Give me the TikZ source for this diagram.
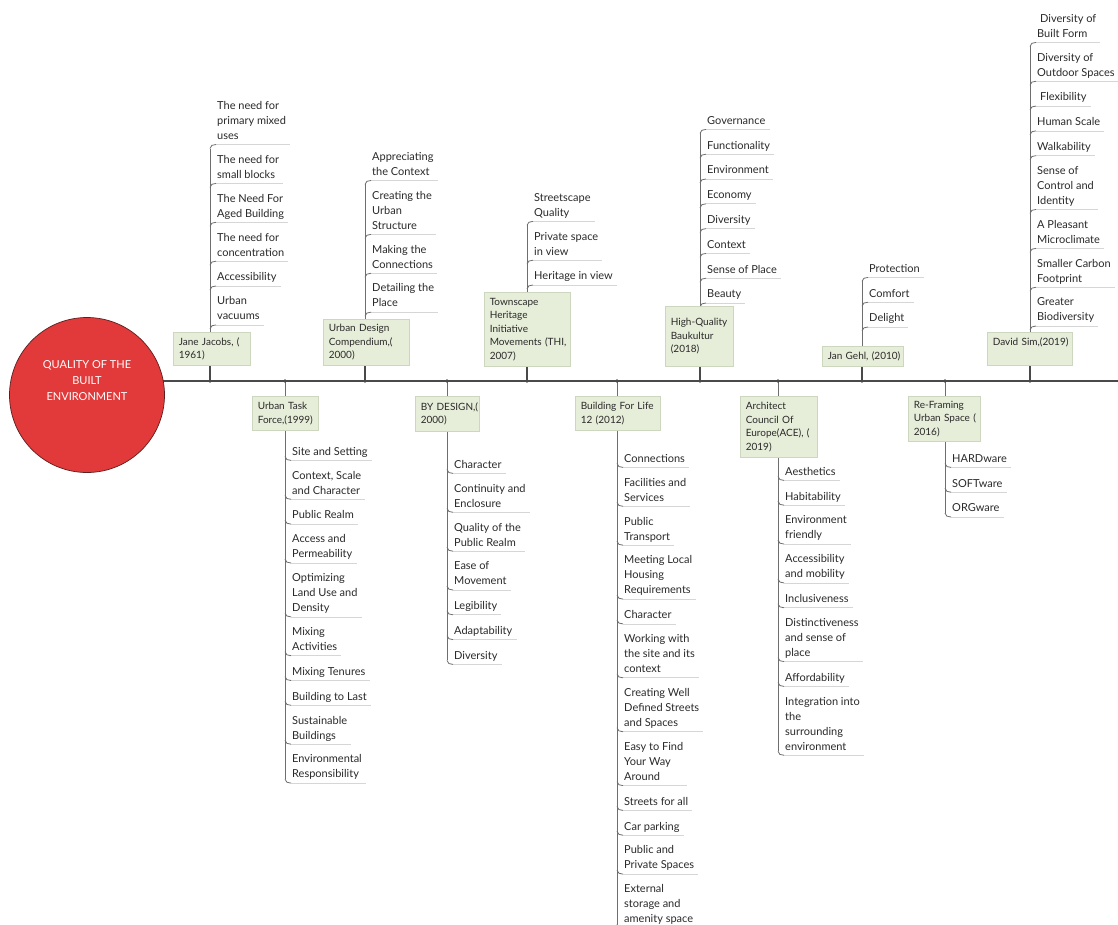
\documentclass[tikz,border=0pt]{standalone}
\usepackage{fontspec}
\setmainfont{Lato}
\usetikzlibrary{calc}
\definecolor{spinecol}{HTML}{4A4A4A}
\definecolor{vlinecol}{HTML}{6E6E6E}
\definecolor{ulinecol}{HTML}{D6D6D6}
\definecolor{boxfill}{HTML}{E6EDD8}
\definecolor{boxline}{HTML}{CDD6BE}
\definecolor{itemcol}{HTML}{2A2A2A}
\definecolor{corered}{HTML}{E2393A}
\definecolor{coreedge}{HTML}{5C1E1E}
\newcommand\nohyph{\hyphenpenalty=10000\relax\exhyphenpenalty=10000\relax}
\newcommand\gap{-10.4pt}
\tikzset{
  item/.style={anchor=north west, inner sep=0pt, align=left,
    font=\fontsize{11}{15}\selectfont, text=itemcol,
    execute at begin node={\rule{0pt}{9pt}},
    execute at end node={\rule[-5pt]{0pt}{5pt}}},
  topic/.style={anchor=north west, draw=boxline, fill=boxfill, line width=0.6pt,
    inner xsep=5.5pt, inner ysep=0pt, align=left,
    font=\fontsize{10}{13.5}\selectfont, text=itemcol,
    execute at begin node={\nohyph}},
  uline/.style={draw=ulinecol, line width=0.7pt},
  twig/.style={draw=vlinecol, line width=0.8pt},
  vline/.style={draw=vlinecol, line width=1pt},
  spine/.style={draw=spinecol, line width=2.2pt},
  stem/.style={draw=spinecol, line width=1.2pt},
  joint/.style={circle, fill=spinecol, inner sep=0pt, minimum size=3.6pt},
}
% underline and twig for an item hanging above the spine
\newcommand\upmark[1]{%
  \draw[uline] ([xshift=-1pt]#1.south west) -- ([xshift=4pt]#1.south east);
  \draw[twig] ($(#1.south west)+(-7,4)$) .. controls +(0,-3) and +(-3,0) .. ([xshift=-1pt]#1.south west);}
% underline and twig for an item hanging below the spine
\newcommand\downmark[1]{%
  \draw[uline] ([xshift=-1pt]#1.south west) -- ([xshift=4pt]#1.south east);
  \draw[twig] ($(#1.south west)+(-7,-4)$) .. controls +(0,3) and +(-3,0) .. ([xshift=-1pt]#1.south west);}
\begin{document}
\begin{tikzpicture}[x=1pt,y=-1pt]
\fill[white] (0,0) rectangle (1118,924);
\useasboundingbox (0,0) rectangle (1118,924);

% ---------------- spine ----------------
\coordinate (sp0) at (87,381);
\coordinate (sp1) at (1118,381);
\draw[spine] (sp0) -- (sp1);

% stem positions on the spine
\coordinate (jjs) at (210,381);
\coordinate (udcs) at (365,381);
\coordinate (this) at (527,381);
\coordinate (hqbs) at (700,381);
\coordinate (gehls) at (862,381);
\coordinate (sims) at (1030,381);
\coordinate (utfs) at (285,381);
\coordinate (bds) at (447,381);
\coordinate (bfls) at (617,381);
\coordinate (aces) at (778,381);
\coordinate (rfs) at (945,381);

% ---------------- items above the spine ----------------
% Jane Jacobs
\node[item] (j1) at (217,101) {The need for\\primary mixed\\uses};
\node[item] (j2) at ([yshift=\gap]j1.south west) {The need for\\small blocks};
\node[item] (j3) at ([yshift=\gap]j2.south west) {The Need For\\Aged Building};
\node[item] (j4) at ([yshift=\gap]j3.south west) {The need for\\concentration};
\node[item] (j5) at ([yshift=\gap]j4.south west) {Accessibility};
\node[item] (j6) at ([yshift=\gap]j5.south west) {Urban\\vacuums};
\foreach \n in {j1,j2,j3,j4,j5,j6} {\upmark{\n}}

% Urban Design Compendium
\node[item] (c1) at (372,152) {Appreciating\\the Context};
\node[item] (c2) at ([yshift=\gap]c1.south west) {Creating the\\Urban\\Structure};
\node[item] (c3) at ([yshift=\gap]c2.south west) {Making the\\Connections};
\node[item] (c4) at ([yshift=\gap]c3.south west) {Detailing the\\Place};
\foreach \n in {c1,c2,c3,c4} {\upmark{\n}}

% Townscape Heritage Initiative
\node[item] (t1) at (534,193) {Streetscape\\Quality};
\node[item] (t2) at ([yshift=\gap]t1.south west) {Private space\\in view};
\node[item] (t3) at ([yshift=\gap]t2.south west) {Heritage in view};
\foreach \n in {t1,t2,t3} {\upmark{\n}}

% High-Quality Baukultur
\node[item] (h1) at (707,115) {Governance};
\node[item] (h2) at ([yshift=\gap]h1.south west) {Functionality};
\node[item] (h3) at ([yshift=\gap]h2.south west) {Environment};
\node[item] (h4) at ([yshift=\gap]h3.south west) {Economy};
\node[item] (h5) at ([yshift=\gap]h4.south west) {Diversity};
\node[item] (h6) at ([yshift=\gap]h5.south west) {Context};
\node[item] (h7) at ([yshift=\gap]h6.south west) {Sense of Place};
\node[item] (h8) at ([yshift=\gap]h7.south west) {Beauty};
\foreach \n in {h1,h2,h3,h4,h5,h6,h7,h8} {\upmark{\n}}

% Jan Gehl
\node[item] (g1) at (869,263) {Protection};
\node[item] (g2) at ([yshift=\gap]g1.south west) {Comfort};
\node[item] (g3) at ([yshift=\gap]g2.south west) {Delight};
\foreach \n in {g1,g2,g3} {\upmark{\n}}

% David Sim
\node[item] (d1) at (1037,14) {\hspace{3pt}Diversity of\\Built Form};
\node[item] (d2) at ([yshift=\gap]d1.south west) {Diversity of\\Outdoor Spaces};
\node[item] (d3) at ([yshift=\gap]d2.south west) {\hspace{3pt}Flexibility};
\node[item] (d4) at ([yshift=\gap]d3.south west) {Human Scale};
\node[item] (d5) at ([yshift=\gap]d4.south west) {Walkability};
\node[item] (d6) at ([yshift=\gap]d5.south west) {Sense of\\Control and\\Identity};
\node[item] (d7) at ([yshift=\gap]d6.south west) {A Pleasant\\Microclimate};
\node[item] (d8) at ([yshift=\gap]d7.south west) {Smaller Carbon\\Footprint};
\node[item] (d9) at ([yshift=\gap]d8.south west) {Greater\\Biodiversity};
\foreach \n in {d1,d2,d3,d4,d5,d6,d7,d8,d9} {\upmark{\n}}

% ---------------- items below the spine ----------------
% Urban Task Force
\node[item] (u1) at (292,446) {Site and Setting};
\node[item] (u2) at ([yshift=\gap]u1.south west) {Context, Scale\\and Character};
\node[item] (u3) at ([yshift=\gap]u2.south west) {Public Realm};
\node[item] (u4) at ([yshift=\gap]u3.south west) {Access and\\Permeability};
\node[item] (u5) at ([yshift=\gap]u4.south west) {Optimizing\\Land Use and\\Density};
\node[item] (u6) at ([yshift=\gap]u5.south west) {Mixing\\Activities};
\node[item] (u7) at ([yshift=\gap]u6.south west) {Mixing Tenures};
\node[item] (u8) at ([yshift=\gap]u7.south west) {Building to Last};
\node[item] (u9) at ([yshift=\gap]u8.south west) {Sustainable\\Buildings};
\node[item] (u10) at ([yshift=\gap]u9.south west) {Environmental\\Responsibility};
\foreach \n in {u1,u2,u3,u4,u5,u6,u7,u8,u9,u10} {\downmark{\n}}

% By Design
\node[item] (b1) at (454,459) {Character};
\node[item] (b2) at ([yshift=\gap]b1.south west) {Continuity and\\Enclosure};
\node[item] (b3) at ([yshift=\gap]b2.south west) {Quality of the\\Public Realm};
\node[item] (b4) at ([yshift=\gap]b3.south west) {Ease of\\Movement};
\node[item] (b5) at ([yshift=\gap]b4.south west) {Legibility};
\node[item] (b6) at ([yshift=\gap]b5.south west) {Adaptability};
\node[item] (b7) at ([yshift=\gap]b6.south west) {Diversity};
\foreach \n in {b1,b2,b3,b4,b5,b6,b7} {\downmark{\n}}

% Building For Life 12
\node[item] (f1) at (624,453) {Connections};
\node[item] (f2) at ([yshift=\gap]f1.south west) {Facilities and\\Services};
\node[item] (f3) at ([yshift=\gap]f2.south west) {Public\\Transport};
\node[item] (f4) at ([yshift=\gap]f3.south west) {Meeting Local\\Housing\\Requirements};
\node[item] (f5) at ([yshift=\gap]f4.south west) {Character};
\node[item] (f6) at ([yshift=\gap]f5.south west) {Working with\\the site and its\\context};
\node[item] (f7) at ([yshift=\gap]f6.south west) {Creating Well\\Defined Streets\\and Spaces};
\node[item] (f8) at ([yshift=\gap]f7.south west) {Easy to Find\\Your Way\\Around};
\node[item] (f9) at ([yshift=\gap]f8.south west) {Streets for all};
\node[item] (f10) at ([yshift=\gap]f9.south west) {Car parking};
\node[item] (f11) at ([yshift=\gap]f10.south west) {Public and\\Private Spaces};
\node[item] (f12) at ([yshift=\gap]f11.south west) {External\\storage and\\amenity space};
\foreach \n in {f1,f2,f3,f4,f5,f6,f7,f8,f9,f10,f11,f12} {\downmark{\n}}

% Architect Council of Europe
\node[item] (a1) at (785,466) {Aesthetics};
\node[item] (a2) at ([yshift=\gap]a1.south west) {Habitability};
\node[item] (a3) at ([yshift=\gap]a2.south west) {Environment\\friendly};
\node[item] (a4) at ([yshift=\gap]a3.south west) {Accessibility\\and mobility};
\node[item] (a5) at ([yshift=\gap]a4.south west) {Inclusiveness};
\node[item] (a6) at ([yshift=\gap]a5.south west) {Distinctiveness\\and sense of\\place};
\node[item] (a7) at ([yshift=\gap]a6.south west) {Affordability};
\node[item] (a8) at ([yshift=\gap]a7.south west) {Integration into\\the\\surrounding\\environment};
\foreach \n in {a1,a2,a3,a4,a5,a6,a7,a8} {\downmark{\n}}

% Re-Framing Urban Space
\node[item] (r1) at (952,453) {HARDware};
\node[item] (r2) at ([yshift=\gap]r1.south west) {SOFTware};
\node[item] (r3) at ([yshift=\gap]r2.south west) {ORGware};
\foreach \n in {r1,r2,r3} {\downmark{\n}}

% vertical runs of the lower branches (behind the boxes)
\draw[vline] (utfs) -- ($(u10.south west)+(-7,-4)$);
\draw[vline] (bds) -- ($(b7.south west)+(-7,-4)$);
\draw[vline] (bfls) -- ($(f12.south west)+(-7,-4)$);
\draw[vline] (aces) -- ($(a8.south west)+(-7,-4)$);
\draw[vline] (rfs) -- ($(r3.south west)+(-7,-4)$);

% ---------------- topic boxes ----------------
\node[topic, text width=66pt, minimum height=33pt] (jj) at (173,332) {Jane~Jacobs,~(\\1961)};
\node[topic, text width=75pt, minimum height=46pt] (udc) at (323,319) {Urban~Design\\Compendium,(\\2000)};
\node[topic, text width=75pt, minimum height=74pt] (thi) at (484,292) {Townscape\\Heritage\\Initiative\\Movements~(THI,\\2007)};
\node[topic, text width=57pt, minimum height=60pt] (hqb) at (665,306) {High-Quality\\Baukultur\\(2018)};
\node[topic, text width=70pt, minimum height=20pt] (gehl) at (822,346) {Jan~Gehl,~(2010)};
\node[topic, text width=74pt, text height=13pt, text depth=20pt] (sim) at (987,332) {David~Sim,(2019)};
\node[topic, text width=55pt, minimum height=34pt] (utf) at (252,396) {Urban~Task\\Force,(1999)};
\node[topic, text width=53pt, minimum height=35pt] (bd) at (415,396) {BY~DESIGN,(\\2000)};
\node[topic, text width=74pt, minimum height=34pt] (bfl) at (575,396) {Building~For~Life\\12~(2012)};
\node[topic, text width=66pt, minimum height=61pt] (ace) at (740,396) {Architect\\Council~Of\\Europe(ACE),~(\\2019)};
\node[topic, text width=61pt, minimum height=45pt] (rf) at (908,396) {Re-Framing\\Urban~Space~(\\2016)};

% stems and vertical runs of the upper branches
\draw[stem] (jjs) -- (jjs |- jj.south);
\draw[stem] (udcs) -- (udcs |- udc.south);
\draw[stem] (this) -- (this |- thi.south);
\draw[stem] (hqbs) -- (hqbs |- hqb.south);
\draw[stem] (gehls) -- (gehls |- gehl.south);
\draw[stem] (sims) -- (sims |- sim.south);
\draw[vline] (jjs |- jj.north) -- ($(j1.south west)+(-7,4)$);
\draw[vline] (udcs |- udc.north) -- ($(c1.south west)+(-7,4)$);
\draw[vline] (this |- thi.north) -- ($(t1.south west)+(-7,4)$);
\draw[vline] (hqbs |- hqb.north) -- ($(h1.south west)+(-7,4)$);
\draw[vline] (gehls |- gehl.north) -- ($(g1.south west)+(-7,4)$);
\draw[vline] (sims |- sim.north) -- ($(d1.south west)+(-7,4)$);

% joints on the spine
\foreach \c in {jjs,udcs,this,hqbs,gehls,sims,utfs,bds,bfls,aces,rfs}
  {\node[joint] (\c-dot) at (\c) {};}

% ---------------- central topic ----------------
\node[circle, fill=corered, draw=coreedge, line width=0.7pt,
      minimum size=155pt, inner sep=0pt] (core) at (87,395) {};
\node[text=white, align=center, font=\fontsize{11}{16}\selectfont] (coretext) at (87,381)
  {QUALITY OF THE\\BUILT\\ENVIRONMENT};
\end{tikzpicture}
\end{document}
